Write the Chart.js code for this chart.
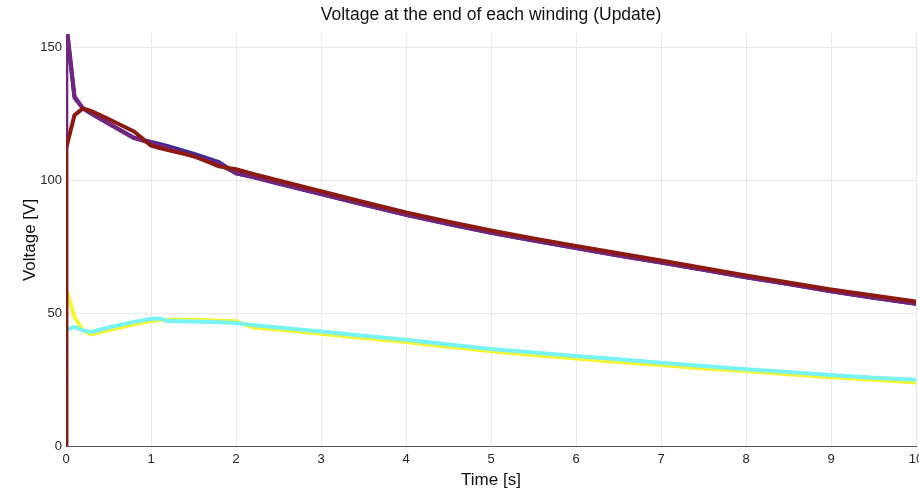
<!DOCTYPE html>
<html>
<head>
<meta charset="utf-8">
<title>Voltage at the end of each winding</title>
<script src="https://cdn.jsdelivr.net/npm/chart.js@4.4.1/dist/chart.umd.min.js"></script>
<style>
  html, body { margin: 0; padding: 0; background: #fff; }
  #wrap { width: 919px; height: 491px; }
</style>
</head>
<body>
<div id="wrap"><canvas id="voltChart"></canvas></div>
<script>
// sample times [s]
const time = [0, 0.002, 0.1, 0.2, 0.3, 0.5, 0.8, 1.0, 1.1, 1.2, 1.5, 1.8, 2.0, 2.2, 2.5,
  3, 3.5, 4, 4.5, 5, 5.5, 6, 6.5, 7, 7.5, 8, 8.5, 9, 9.5, 10];

// voltages [V]
const windingRed = [0, 112, 124.5, 127, 126, 123, 118.3, 113, 112.1, 111.3, 109.1, 105.2, 104.1, 102.4, 99.9,
  95.9, 91.8, 87.9, 84.4, 81.1, 78.1, 75.3, 72.5, 69.8, 67.0, 64.2, 61.5, 58.9, 56.6, 54.4];
const windingPurple = [0, 160, 131.5, 127, 125, 121.3, 115.8, 114, 113, 112, 109, 106, 102.6, 101.2, 98.7,
  94.8, 90.8, 87.0, 83.5, 80.2, 77.3, 74.5, 71.7, 69.0, 66.3, 63.5, 60.9, 58.2, 55.8, 53.5];
const windingBlue = [0, 158, 131, 127, 125, 121.3, 116, 114.4, 113.6, 112.8, 110, 106.8, 102.6, 101.2, 98.7,
  94.8, 90.8, 87.0, 83.5, 80.2, 77.3, 74.5, 71.7, 69.0, 66.3, 63.5, 60.9, 58.2, 55.8, 53.5];
const windingCyan = [0, 43.7, 44.8, 43.5, 42.9, 44.6, 46.7, 47.8, 48.0, 47.0, 46.8, 46.6, 46.3, 45.5, 44.6,
  43.1, 41.5, 40.0, 38.2, 36.5, 35.2, 33.9, 32.6, 31.3, 30.1, 28.9, 27.8, 26.7, 25.7, 24.9];
const windingYellow = [0, 58.8, 48.5, 43.5, 42.0, 43.5, 45.8, 47.0, 47.4, 47.5, 47.5, 47.1, 46.9, 44.6, 43.8,
  42.2, 40.6, 39.1, 37.3, 35.6, 34.2, 32.9, 31.6, 30.5, 29.2, 28.2, 27.0, 25.9, 24.9, 23.9];

const xTicks = [0, 1, 2, 3, 4, 5, 6, 7, 8, 9, 10];
const yTicks = [0, 50, 100, 150];

function toPoints(values) {
  return values.map((v, i) => ({ x: time[i], y: v }));
}

function makeSet(values, color) {
  return {
    data: toPoints(values),
    borderColor: color,
    backgroundColor: color,
    borderWidth: 4,
    pointRadius: 0,
    tension: 0,
    fill: false,
    borderJoinStyle: 'round',
    borderCapStyle: 'round',
    clip: 0
  };
}

const font = 'Liberation Sans, Arial, Helvetica, sans-serif';

// first dataset is drawn on top
new Chart(document.getElementById('voltChart'), {
  type: 'line',
  data: {
    datasets: [
      makeSet(windingRed, '#8c1a12'),
      makeSet(windingPurple, '#72267f'),
      makeSet(windingBlue, '#3d2c98'),
      makeSet(windingCyan, '#78f3f5'),
      makeSet(windingYellow, '#f4f433')
    ]
  },
  options: {
    responsive: true,
    maintainAspectRatio: false,
    animation: false,
    layout: { padding: { right: 3 } },
    plugins: {
      legend: { display: false },
      tooltip: { enabled: false },
      title: {
        display: true,
        text: 'Voltage at the end of each winding (Update)',
        fullSize: false,
        color: '#111',
        font: { family: font, size: 17.5, weight: 'normal' },
        padding: { top: 4.5, bottom: 8.5 }
      }
    },
    scales: {
      x: {
        type: 'linear',
        min: 0,
        max: 10,
        afterBuildTicks: s => { s.ticks = xTicks.map(v => ({ value: v })); },
        afterFit: s => { s.height = 45; s.paddingLeft = 0; s.paddingRight = 0; },
        ticks: {
          color: '#262626',
          font: { family: font, size: 13 },
          padding: 6,
          maxRotation: 0
        },
        grid: { color: '#e8e8e8', drawTicks: false },
        border: { color: '#555', width: 1 },
        title: {
          display: true,
          text: 'Time [s]',
          color: '#111',
          font: { family: font, size: 17 },
          padding: { top: 0, bottom: 0 }
        }
      },
      y: {
        min: 0,
        max: 155,
        afterBuildTicks: s => { s.ticks = yTicks.map(v => ({ value: v })); },
        afterFit: s => { s.width = 66; s.paddingTop = 0; s.paddingBottom = 0; },
        ticks: {
          color: '#262626',
          font: { family: font, size: 13 },
          padding: 4
        },
        grid: { color: '#e8e8e8', drawTicks: false },
        border: { color: '#555', width: 1 },
        title: {
          display: true,
          text: 'Voltage [V]',
          color: '#111',
          font: { family: font, size: 17 },
          padding: { top: 20, bottom: 0 }
        }
      }
    }
  }
});
</script>
</body>
</html>
